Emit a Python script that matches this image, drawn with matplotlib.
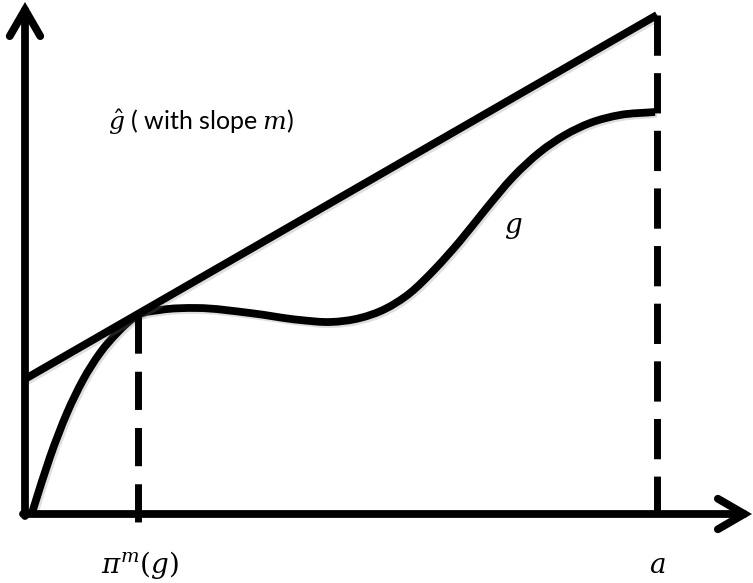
import numpy as np
import matplotlib
matplotlib.use("Agg")
import matplotlib.pyplot as plt
from matplotlib.path import Path
from matplotlib.patches import PathPatch
import matplotlib.patheffects as pe

plt.rcParams['mathtext.fontset'] = 'dejavuserif'

# ---- data (schematic units) ----
g_x = [7, 25, 42, 58, 75, 92, 113, 135, 172, 225, 275, 305, 335, 360, 385, 410, 435, 460, 488, 515, 540, 565, 595, 630]
g_y = [1, 57, 101, 134, 161, 181, 199, 204, 206, 201, 194, 192, 196, 205, 221, 245, 273, 304, 337, 362, 379, 391, 399, 402]
line_x = [0, 632]
line_y = [135, 499]
pi_m_x = 113      # tangent point abscissa
a_x = 632         # right end
x_axis_end = 727
y_axis_end = 512

fig = plt.figure(figsize=(7.53, 5.83), dpi=100)
ax = fig.add_axes([0, 0, 1, 1])
ax.set_xlim(-25, 728)
ax.set_ylim(-69, 514)
ax.axis('off')

LW = 5.6
shadow = [pe.SimpleLineShadow(offset=(1.5, -1.5), shadow_color='gray', alpha=0.25), pe.Normal()]

# axes arrows
arrow_kw = dict(arrowstyle='->,head_length=0.95,head_width=0.55', lw=LW, color='black',
                shrinkA=0, shrinkB=0, mutation_scale=20, capstyle='round', joinstyle='miter')
ax.annotate('', xy=(x_axis_end, 0), xytext=(-2, 0), arrowprops=arrow_kw)
ax.annotate('', xy=(0, y_axis_end), xytext=(0, -2), arrowprops=arrow_kw)

# tangent line g-hat
ax.plot(line_x, line_y, color='black', lw=LW, solid_capstyle='butt', path_effects=shadow)

# smooth curve g through the points (cubic Hermite in x -> Bezier)
X = np.asarray(g_x, float)
Y = np.asarray(g_y, float)
h = np.diff(X)
s = np.diff(Y) / h
d = np.empty_like(X)
d[0] = s[0]
d[-1] = s[-1]
d[1:-1] = (h[:-1] * s[1:] + h[1:] * s[:-1]) / (h[:-1] + h[1:])
verts = [(X[0], Y[0])]
codes = [Path.MOVETO]
for i in range(len(X) - 1):
    hh = h[i] / 3.0
    verts += [(X[i] + hh, Y[i] + d[i] * hh),
              (X[i + 1] - hh, Y[i + 1] - d[i + 1] * hh),
              (X[i + 1], Y[i + 1])]
    codes += [Path.CURVE4] * 3
patch = PathPatch(Path(verts, codes), facecolor='none', edgecolor='black', lw=LW,
                  capstyle='butt', path_effects=shadow)
ax.add_patch(patch)

# dashed verticals
ax.plot([pi_m_x, pi_m_x], [199, -8], color='black', lw=5.0, dashes=(5.5, 2.6),
        dash_capstyle='butt')
ax.plot([a_x, a_x], [line_y[1], -8], color='black', lw=5.0, dashes=(5.8, 2.5),
        dash_capstyle='butt')

# labels
ax.text(83, 392, r'$\hat{g}$ ( with slope $m$)', fontsize=18, family='Lato',
        ha='left', va='center')
ax.text(488, 287, r'$g$', fontsize=20, ha='center', va='center')
ax.text(115, -51, r'$\pi^m(g)$', fontsize=20, ha='center', va='center')
ax.text(632, -51, r'$a$', fontsize=20, ha='center', va='center')

fig.savefig('out.png', dpi=100)
